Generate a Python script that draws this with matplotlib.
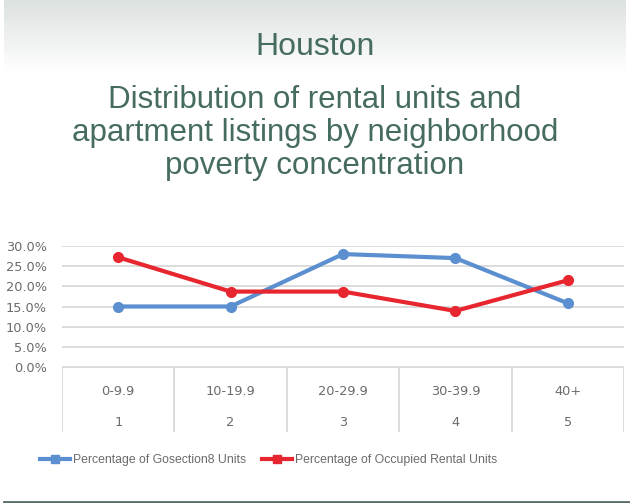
import matplotlib
matplotlib.use("Agg")
import matplotlib.pyplot as plt
from matplotlib.lines import Line2D
import numpy as np

plt.rcParams['font.family'] = ['Liberation Sans', 'DejaVu Sans']

# data
ranges = ['0-9.9', '10-19.9', '20-29.9', '30-39.9', '40+']
groups = ['1', '2', '3', '4', '5']
section8 = [0.150, 0.150, 0.280, 0.270, 0.158]
occupied = [0.272, 0.187, 0.187, 0.139, 0.215]
yticks = [0.0, 0.05, 0.10, 0.15, 0.20, 0.25, 0.30]
series_names = ['Percentage of Gosection8 Units', 'Percentage of Occupied Rental Units']

blue = '#5b8fcf'
red = '#e8262f'
title_col = '#466b61'
txt_col = '#6b6b6b'
grid_col = '#d9d9d9'
small = dict(family='DejaVu Sans', size=9.3, color=txt_col)

W, H = 630, 503
fig = plt.figure(figsize=(W / 100, H / 100), dpi=100)

# header gradient band
bg = fig.add_axes([4 / W, 1 - 72 / H, 622 / W, 72 / H])
grad = np.linspace(0, 1, 100).reshape(-1, 1)
top = np.array([0.863, 0.886, 0.878])
rgb = top + (1 - top) * grad[:, :, None]
bg.imshow(rgb, aspect='auto', extent=[0, 1, 1, 0])
bg.axis('off')

fig.text(0.5, 1 - 47 / H, 'Houston', ha='center', va='center',
         fontsize=23, color=title_col)
fig.text(0.5, 1 - 133 / H,
         'Distribution of rental units and\napartment listings by neighborhood\npoverty concentration',
         ha='center', va='center', fontsize=22.5, color=title_col, linespacing=1.12)

# main chart
x = np.arange(1, len(ranges) + 1)
ax = fig.add_axes([62 / W, 1 - 367 / H, 562 / W, 121 / H])
ax.set_xlim(0.5, len(ranges) + 0.5)
ax.set_ylim(0, 0.30)
ax.set_yticks(yticks)
ax.set_yticklabels(['%.1f%%' % (v * 100) for v in yticks], **small)
ax.yaxis.grid(True, color=grid_col, lw=1.3)
ax.set_axisbelow(True)
ax.set_xticks([])
ax.tick_params(axis='y', length=0, pad=11)
for s in ax.spines.values():
    s.set_visible(False)

ax.plot(x, section8, color=blue, lw=3, marker='o', ms=7, clip_on=False)
ax.plot(x, occupied, color=red, lw=3, marker='o', ms=7, clip_on=False)

# category table under the axis
tab = fig.add_axes([62 / W, 1 - 432 / H, 562 / W, 65 / H])
tab.set_xlim(0.5, len(ranges) + 0.5)
tab.set_ylim(0, 1)
tab.axis('off')
for b in np.arange(0.5, len(ranges) + 1):
    tab.axvline(b, color=grid_col, lw=1.3)
tab.axhline(1, color=grid_col, lw=1.3)
for xi, r, g in zip(x, ranges, groups):
    tab.text(xi, 0.63, r, ha='center', va='center', **small)
    tab.text(xi, 0.15, g, ha='center', va='center', **small)

handles = [Line2D([], [], color=blue, lw=3, marker='s', ms=6),
           Line2D([], [], color=red, lw=3, marker='s', ms=6)]
fig.legend(handles, series_names, loc='center', bbox_to_anchor=(268.5 / W, 1 - 460 / H),
           ncol=2, frameon=False, fontsize=8.8, handlelength=2.5, handletextpad=0.2,
           columnspacing=1.3, labelcolor=txt_col, borderpad=0)

# bottom rule
fig.add_artist(Line2D([4 / W, 1], [1 - 501.5 / H, 1 - 501.5 / H],
                      color='#5a6e68', lw=2))

fig.savefig('out.png', dpi=100)
